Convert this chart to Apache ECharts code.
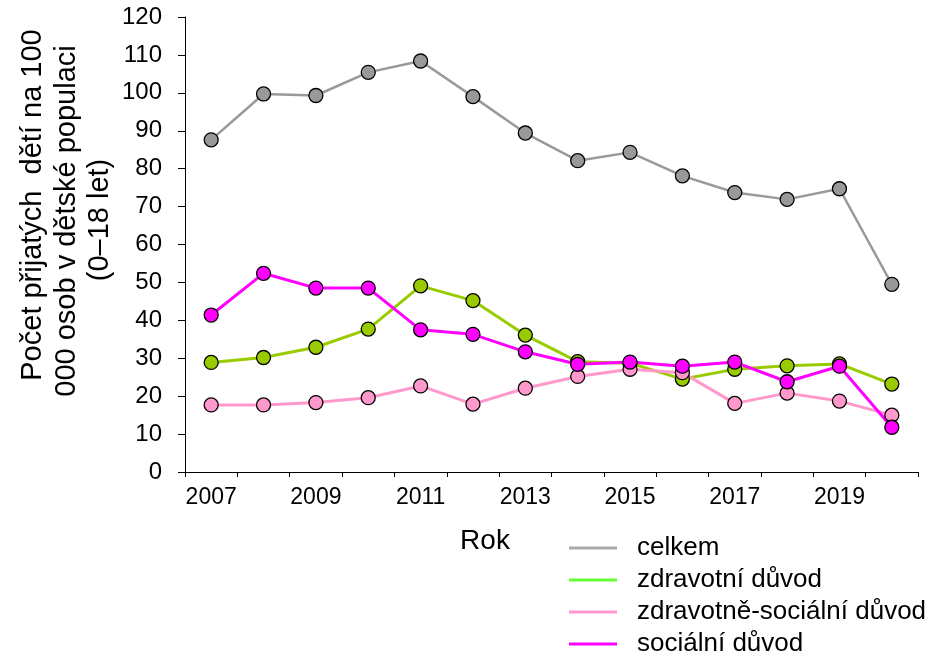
<!DOCTYPE html>
<html>
<head>
<meta charset="utf-8">
<script src="https://cdn.jsdelivr.net/npm/echarts@6/dist/echarts.min.js"></script>
<style>
  html, body { margin: 0; padding: 0; background: #fff; }
  #chart { width: 944px; height: 660px; }
</style>
</head>
<body>
<div id="chart"></div>
<script>
  // roky
  var years = ['2007','2008','2009','2010','2011','2012','2013','2014','2015','2016','2017','2018','2019','2020'];

  // hodnoty jednotlivých řad
  var celkem = [87.6, 99.7, 99.3, 105.4, 108.4, 99.0, 89.4, 82.1, 84.3, 78.1, 73.7, 71.9, 74.7, 49.5];
  var zdravotni = [28.9, 30.2, 32.9, 37.7, 49.1, 45.2, 36.1, 29.1, 28.7, 24.5, 27.1, 28.0, 28.5, 23.2];
  var zdravSocialni = [17.7, 17.7, 18.3, 19.6, 22.7, 17.9, 22.1, 25.2, 27.1, 26.2, 18.1, 20.8, 18.7, 15.0];
  var socialni = [41.4, 52.4, 48.5, 48.5, 37.5, 36.3, 31.7, 28.4, 29.0, 27.9, 29.0, 23.8, 27.9, 11.8];

  var yTicks = [0, 120, 10];

  var font = 'Liberation Sans, Arial, sans-serif';

  var myChart = echarts.init(document.getElementById('chart'));

  function line(name, data, lineColor, markerColor, width) {
    return {
      name: name,
      type: 'line',
      data: data,
      symbol: 'circle',
      symbolSize: 14,
      showAllSymbol: true,
      lineStyle: { color: lineColor, width: width },
      itemStyle: { color: markerColor, borderColor: '#000', borderWidth: 1.3 },
      emphasis: { disabled: true },
      animation: false
    };
  }

  // popisek osy y - tři řádky
  function yName(text, x, y) {
    return {
      type: 'text',
      x: x,
      y: y,
      rotation: Math.PI / 2,
      style: {
        text: text,
        font: '29px ' + font,
        fill: '#000',
        align: 'center',
        verticalAlign: 'middle'
      }
    };
  }

  var option = {
    animation: false,
    grid: { left: 185, right: 26, top: 17, bottom: 188 },
    legend: {
      orient: 'vertical',
      left: 569,
      top: 535,
      padding: 0,
      icon: 'rect',
      itemWidth: 48,
      itemHeight: 3,
      itemGap: 6,
      textStyle: { fontFamily: font, fontSize: 26, color: '#000', padding: [0, 0, 0, 15] },
      itemStyle: { borderWidth: 0 },
      data: [
        { name: 'celkem', itemStyle: { color: '#aaaaaa', borderWidth: 0 } },
        { name: 'zdravotní důvod', itemStyle: { color: '#66ff33', borderWidth: 0 } },
        { name: 'zdravotně-sociální důvod', itemStyle: { color: '#ff99cc', borderWidth: 0 } },
        { name: 'sociální důvod', itemStyle: { color: '#ff00ff', borderWidth: 0 } }
      ]
    },
    graphic: [
      yName('Počet přijatých  dětí na 100', 33, 205),
      yName('000 osob v dětské populaci', 67, 221),
      yName('(0–18 let)', 100, 220),
      {
        type: 'text',
        x: 485,
        y: 541,
        style: {
          text: 'Rok',
          font: '28px ' + font,
          fill: '#000',
          align: 'center',
          verticalAlign: 'middle'
        }
      }
    ],
    xAxis: {
      type: 'category',
      data: years,
      boundaryGap: true,
      axisLine: { lineStyle: { color: '#000', width: 1 } },
      axisTick: { show: true, length: 5, interval: 0, lineStyle: { color: '#000' } },
      axisLabel: { interval: 1, fontFamily: font, fontSize: 23, color: '#000', margin: 14 },
      splitLine: { show: false }
    },
    yAxis: {
      type: 'value',
      min: yTicks[0],
      max: yTicks[1],
      interval: yTicks[2],
      axisLine: { show: true, lineStyle: { color: '#000', width: 1 } },
      axisTick: { show: true, length: 7, lineStyle: { color: '#000' } },
      axisLabel: { fontFamily: font, fontSize: 24, color: '#000', margin: 23 },
      splitLine: { show: false }
    },
    series: [
      line('celkem', celkem, '#999999', '#999999', 2.5),
      line('zdravotní důvod', zdravotni, '#99cc00', '#99cc00', 3),
      line('zdravotně-sociální důvod', zdravSocialni, '#ff99cc', '#ff99cc', 3),
      line('sociální důvod', socialni, '#ff00ff', '#ff00ff', 3)
    ]
  };

  myChart.setOption(option);
</script>
</body>
</html>
